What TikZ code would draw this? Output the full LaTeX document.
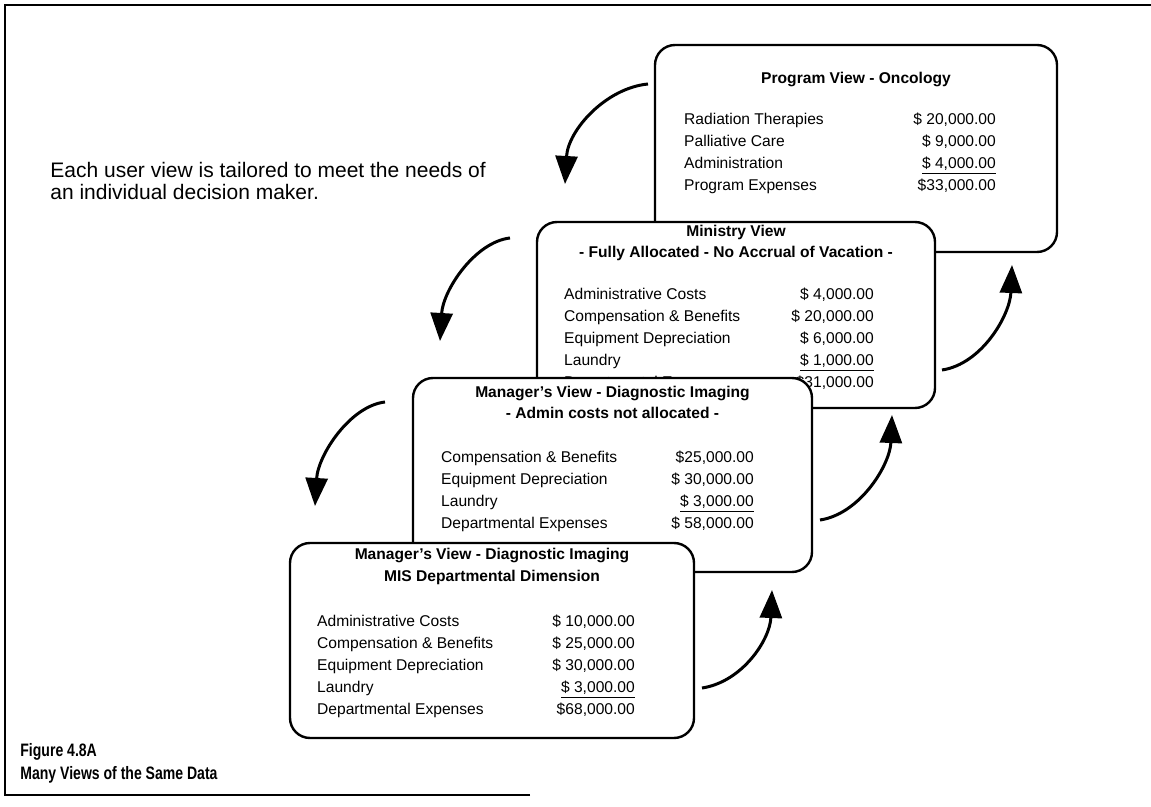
\documentclass[tikz,border=0pt]{standalone}
\usepackage{fontspec}
\setmainfont{Liberation Sans}
\usetikzlibrary{arrows.meta,calc,positioning}

\begin{document}
\begin{tikzpicture}[x=0.5pt,y=-0.5pt,
    card/.style={draw, line width=1.2pt, rounded corners=10pt, fill=white, inner sep=0pt},
    heading/.style={font=\fontsize{7.8}{10.75}\selectfont\bfseries, align=center, inner sep=0pt},
    items/.style={font=\fontsize{7.8}{11}\selectfont, align=left, inner sep=0pt, anchor=north west},
    amounts/.style={font=\fontsize{7.8}{11}\selectfont, align=right, inner sep=0pt, anchor=north east},
    flow/.style={line width=1.5pt, -{Triangle[length=14pt,width=11pt]}}]
    \useasboundingbox (0,0) rectangle (1151,807);
    \draw[line width=1pt] (530,795) -- (5,795) -- (5,5) -- (1151,5);

    % program view
    \node[card, minimum width=201pt, minimum height=103.5pt] (prog) at (856,148.5) {};
    \node[heading] (progT) at ($(prog.north)+(0,36)$) {Program View - Oncology};
    \node[items] (progL) at ($(prog.north west)+(30,69)$) {Radiation Therapies\\Palliative Care\\Administration\\Program Expenses};
    \node[amounts] (progR) at ($(prog.north east)+(-62,69)$) {\$ 20,000.00\\\$ 9,000.00\\\underline{\$ 4,000.00}\\\$33,000.00};

    % ministry view
    \node[card, minimum width=199pt, minimum height=93pt] (mini) at (736,315) {};
    \node[heading] (miniT) at ($(mini.north)+(0,22)$) {Ministry View\\- Fully Allocated - No Accrual of Vacation -};
    \node[items] (miniL) at ($(mini.north west)+(28,67)$) {Administrative Costs\\Compensation \& Benefits\\Equipment Depreciation\\Laundry\\Departmental Expenses};
    \node[amounts] (miniR) at ($(mini.north east)+(-62,67)$) {\$ 4,000.00\\\$ 20,000.00\\\$ 6,000.00\\\underline{\$ 1,000.00}\\\$31,000.00};

    % manager's view, admin not allocated
    \node[card, minimum width=199.5pt, minimum height=97pt] (mgr) at (612.5,475) {};
    \node[heading] (mgrT) at ($(mgr.north)+(0,25.5)$) {Manager's View - Diagnostic Imaging\\- Admin costs not allocated -};
    \node[items] (mgrL) at ($(mgr.north west)+(29,74)$) {Compensation \& Benefits\\Equipment Depreciation\\Laundry\\Departmental Expenses};
    \node[amounts] (mgrR) at ($(mgr.north east)+(-59,74)$) {\$25,000.00\\\$ 30,000.00\\\underline{\$ 3,000.00}\\\$ 58,000.00};

    % MIS departmental dimension
    \node[card, minimum width=202pt, minimum height=97.5pt] (mis) at (492,640.5) {};
    \node[heading] (misT) at ($(mis.north)+(0,24.5)$) {Manager's View - Diagnostic Imaging\\MIS Departmental Dimension};
    \node[items] (misL) at ($(mis.north west)+(28,73)$) {Administrative Costs\\Compensation \& Benefits\\Equipment Depreciation\\Laundry\\Departmental Expenses};
    \node[amounts] (misR) at ($(mis.north east)+(-60,73)$) {\$ 10,000.00\\\$ 25,000.00\\\$ 30,000.00\\\underline{\$ 3,000.00}\\\$68,000.00};

    \node[anchor=north west, align=left, inner sep=0pt, font=\fontsize{10.5}{11}\selectfont] (note) at (50,162) {Each user view is tailored to meet the needs of\\an individual decision maker.};
    \node[anchor=north west, align=left, inner sep=0pt, font=\fontsize{9}{11.5}\selectfont\bfseries] (caption) at (20,743) {\scalebox{0.78}[1]{Figure 4.8A}\\\scalebox{0.78}[1]{Many Views of the Same Data}};

    % arrows down the left side
    \coordinate (a1s) at (648,84);  \coordinate (a1e) at (565,184);
    \coordinate (a2s) at (510,238); \coordinate (a2e) at (440,341);
    \coordinate (a3s) at (385,402); \coordinate (a3e) at (315,506);
    \draw[flow] (a1s) .. controls (606,88) and (568,130) .. (a1e);
    \draw[flow] (a2s) .. controls (475,242) and (443,290) .. (a2e);
    \draw[flow] (a3s) .. controls (350,406) and (318,455) .. (a3e);

    % arrows up the right side
    \coordinate (b1s) at (702,688); \coordinate (b1e) at (772,590);
    \coordinate (b2s) at (820,520); \coordinate (b2e) at (892,415);
    \coordinate (b3s) at (942,370); \coordinate (b3e) at (1012,265);
    \draw[flow] (b1s) .. controls (742,682) and (770,640) .. (b1e);
    \draw[flow] (b2s) .. controls (860,514) and (890,465) .. (b2e);
    \draw[flow] (b3s) .. controls (982,364) and (1010,315) .. (b3e);
\end{tikzpicture}
\end{document}
